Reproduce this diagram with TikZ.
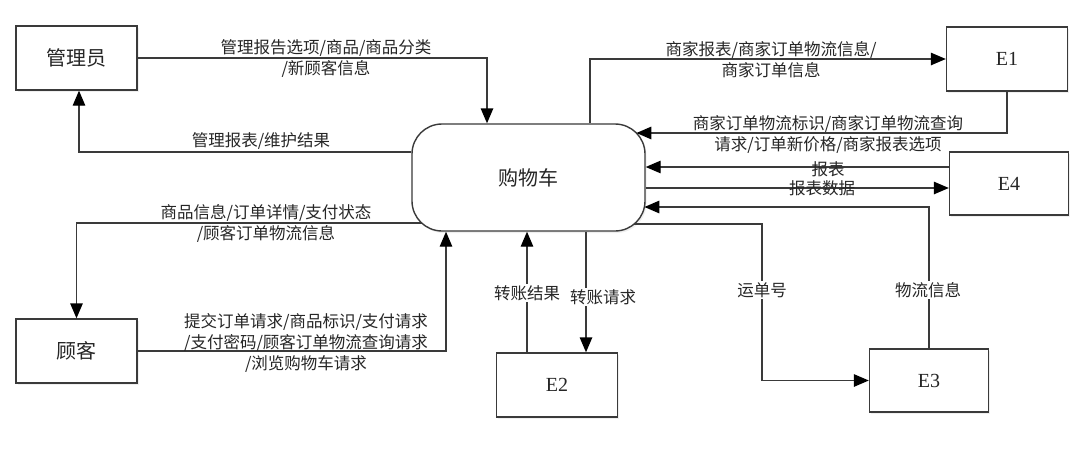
\documentclass[tikz,border=0pt]{standalone}
\usepackage{fontspec}
\setmainfont{Noto Sans CJK SC}
\newfontfamily\efont{Liberation Serif}
\usetikzlibrary{arrows.meta,shadows}
\definecolor{ink}{HTML}{3A3A3A}
\begin{document}
\begin{tikzpicture}[x=1pt,y=1pt,
  entity/.style={draw=ink, line width=1.4pt, fill=white,
    minimum width=121pt, minimum height=64pt, inner sep=0pt,
    font=\fontsize{20}{24}\selectfont, text=black!85,
    drop shadow={opacity=0.12, shadow xshift=1.5pt, shadow yshift=-2pt}},
  ebox/.style={entity, font=\efont\fontsize{20}{24}\selectfont},
  process/.style={entity, rounded corners=30pt, minimum width=233pt, minimum height=107pt},
  flow/.style={draw=ink, line width=1.4pt,
    -{Triangle[length=15pt,width=12.5pt,color=black,fill=black]}},
  lbl/.style={font=\fontsize{16.5}{21}\selectfont, text=black!85, align=center, inner sep=0pt},
  vlbl/.style={lbl, fill=white, inner sep=1pt}
]
\useasboundingbox[fill=white] (0,0) rectangle (1077,-450);

% external entities and the central process
\node[entity]  (admin) at (76.5,-58)     {管理员};
\node[entity]  (cust)  at (76.5,-351)    {顾客};
\node[process] (cart)  at (528.5,-177.5) {购物车};
\node[ebox]    (E1)    at (1007,-59)     {E1};
\node[ebox, minimum width=119pt, minimum height=63pt] (E4) at (1009,-183.5) {E4};
\node[ebox]    (E2)    at (557,-385)     {E2};
\node[ebox, minimum width=119pt, minimum height=63pt] (E3) at (929,-380.5) {E3};

% attachment points on the rounded corners of the process
\coordinate (cartE1)   at (636.4,-133);
\coordinate (cartE3)   at (644.4,-207);
\coordinate (cartShip) at (634.3,-224);
\coordinate (cartCust) at (421.6,-223);
\coordinate (shipbend) at (762,-224);

% data flows
\draw[flow] (admin.east) -| ([xshift=-41.5pt]cart.north);
\draw[flow] ([yshift=25.5pt]cart.west) -| ([xshift=2.5pt]admin.south);
\draw[flow] (cartCust) -| (cust.north);
\draw[flow] (cust.east) -| ([xshift=-82.5pt]cart.south);
\draw[flow] ([xshift=61.5pt]cart.north) |- (E1.west);
\draw[flow] (E1.south) |- (cartE1);
\draw[flow] (E4.west |- 0,-167) -- (cart.east |- 0,-167);
\draw[flow] (cart.east |- 0,-188) -- (E4.west |- 0,-188);
\draw[flow] (E3.north) |- (cartE3);
\draw[flow] (cartShip) -- (shipbend) |- (E3.west);
\draw[flow] (E2.north -| 527,0) -- (cart.south -| 527,0);
\draw[flow] (cart.south -| 586,0) -- (E2.north -| 586,0);

% flow labels
\node[lbl] (l1) at (326,-58.5) {管理报告选项/商品/商品分类\\/新顾客信息};
\node[lbl] (l2) at (261,-141)  {管理报表/维护结果};
\node[lbl] (l3) at (771,-60)   {商家报表/商家订单物流信息/\\商家订单信息};
\node[lbl] (l4) at (828,-134)  {商家订单物流标识/商家订单物流查询\\请求/订单新价格/商家报表选项};
\node[lbl] (l5) at (828,-169)  {报表};
\node[lbl] (l6) at (822,-188)  {报表数据};
\node[lbl] (l7) at (266,-223)  {商品信息/订单详情/支付状态\\/顾客订单物流信息};
\node[lbl] (l8) at (306,-343)  {提交订单请求/商品标识/支付请求\\/支付密码/顾客订单物流查询请求\\/浏览购物车请求};
\node[vlbl] (l9)  at (527,-293) {转账结果};
\node[vlbl] (l10) at (603,-297) {转账请求};
\node[vlbl] (l11) at (762,-290) {运单号};
\node[vlbl] (l12) at (928,-290) {物流信息};
\end{tikzpicture}
\end{document}
